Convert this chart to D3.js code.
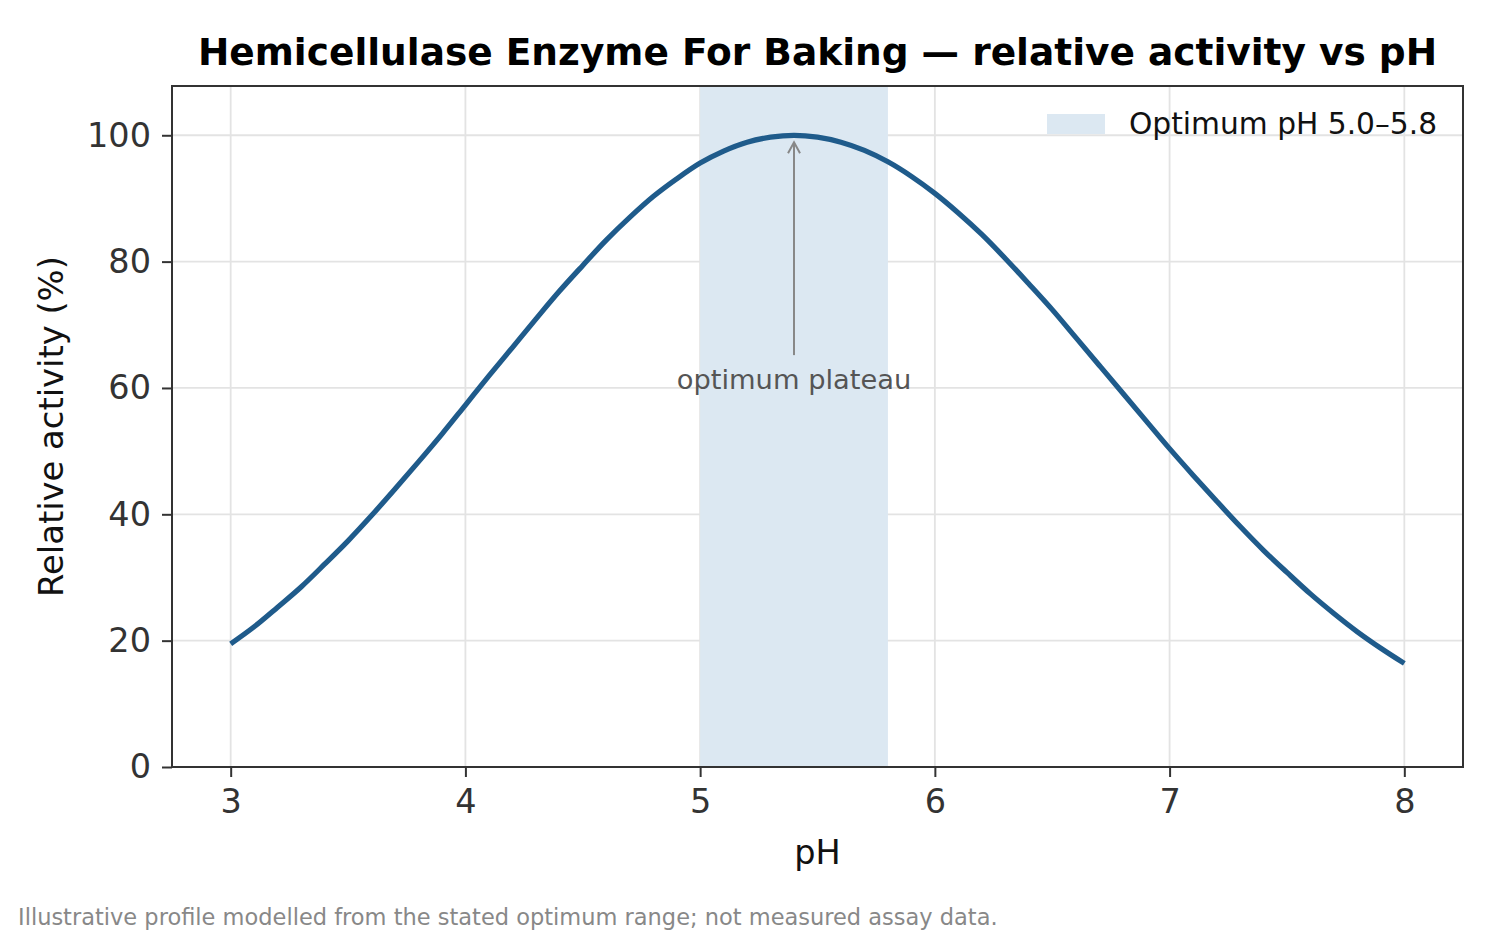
<!DOCTYPE html>
<html>
<head>
<meta charset="utf-8">
<script src="https://cdn.jsdelivr.net/npm/d3@7"></script>
<style>
  body { margin: 0; background: #fff; }
  svg text { font-family: "DejaVu Sans", sans-serif; }
</style>
</head>
<body>
<div id="chart"></div>
<script>
// pH values (x) and relative activity (%)
const phValues = [3.0, 3.1, 3.2, 3.3, 3.4, 3.5, 3.6, 3.7, 3.8, 3.9,
  4.0, 4.1, 4.2, 4.3, 4.4, 4.5, 4.6, 4.7, 4.8, 4.9,
  5.0, 5.1, 5.2, 5.3, 5.4, 5.5, 5.6, 5.7, 5.8, 5.9,
  6.0, 6.1, 6.2, 6.3, 6.4, 6.5, 6.6, 6.7, 6.8, 6.9,
  7.0, 7.1, 7.2, 7.3, 7.4, 7.5, 7.6, 7.7, 7.8, 7.9, 8.0];
const activity = [19.5, 22.2, 25.3, 28.5, 32.1, 35.8, 39.8, 44.0, 48.3, 52.7,
  57.3, 61.9, 66.4, 70.9, 75.3, 79.4, 83.4, 87.0, 90.3, 93.1,
  95.6, 97.5, 98.9, 99.7, 100.0, 99.7, 98.9, 97.6, 95.8, 93.5,
  90.8, 87.7, 84.3, 80.5, 76.5, 72.4, 68.0, 63.6, 59.2, 54.8,
  50.4, 46.2, 42.1, 38.1, 34.3, 30.8, 27.4, 24.3, 21.4, 18.8, 16.4];
const optimumBand = [5.0, 5.8];
const peak = { ph: 5.4, value: 100 };
const xTicks = [3, 4, 5, 6, 7, 8];
const yTicks = [0, 20, 40, 60, 80, 100];

const data = phValues.map((p, i) => ({ ph: p, value: activity[i] }));

const W = 1500, H = 937;
const margin = { top: 86, right: 37, bottom: 170, left: 172 };
const width = W - margin.left - margin.right,
  height = H - margin.top - margin.bottom;

const svg = d3.select("#chart").append("svg")
  .attr("width", W).attr("height", H);
const g = svg.append("g")
  .attr("transform", "translate(" + margin.left + "," + margin.top + ")");

const x = d3.scaleLinear().domain([2.75, 8.25]).range([0, width]);
const y = d3.scaleLinear().domain([0, 107.8]).range([height, 0]);

// grid
g.append("g").selectAll("line").data(xTicks).join("line")
  .attr("x1", d => x(d)).attr("x2", d => x(d))
  .attr("y1", 0).attr("y2", height)
  .attr("stroke", "#e3e3e3").attr("stroke-width", 1.8);
g.append("g").selectAll("line").data(yTicks).join("line")
  .attr("x1", 0).attr("x2", width)
  .attr("y1", d => y(d)).attr("y2", d => y(d))
  .attr("stroke", "#e3e3e3").attr("stroke-width", 1.8);

// optimum band
g.append("rect")
  .attr("x", x(optimumBand[0]))
  .attr("width", x(optimumBand[1]) - x(optimumBand[0]))
  .attr("y", 0).attr("height", height)
  .attr("fill", "#dce8f2");

// curve
const line = d3.line()
  .x(d => x(d.ph)).y(d => y(d.value))
  .curve(d3.curveCatmullRom);
g.append("path").datum(data)
  .attr("d", line)
  .attr("fill", "none")
  .attr("stroke", "#1f5b8b")
  .attr("stroke-width", 5.2);

// annotation arrow
const ax = x(peak.ph), tipY = y(peak.value) + 7;
g.append("line")
  .attr("x1", ax).attr("x2", ax)
  .attr("y1", y(65.2)).attr("y2", tipY)
  .attr("stroke", "#888").attr("stroke-width", 2);
g.append("path")
  .attr("d", "M" + (ax - 6) + "," + (tipY + 11) + " L" + ax + "," + tipY +
    " L" + (ax + 6) + "," + (tipY + 11))
  .attr("fill", "none").attr("stroke", "#888").attr("stroke-width", 2);
g.append("text")
  .attr("x", ax).attr("y", y(59.8))
  .attr("text-anchor", "middle")
  .attr("fill", "#555").attr("font-size", 27.3)
  .text("optimum plateau");

// axes
const xAxis = g.append("g")
  .attr("transform", "translate(0," + height + ")")
  .call(d3.axisBottom(x).tickValues(xTicks).tickFormat(d3.format("d"))
    .tickSize(10).tickPadding(12));
const yAxis = g.append("g")
  .call(d3.axisLeft(y).tickValues(yTicks).tickSize(10).tickPadding(11));
[xAxis, yAxis].forEach(a => {
  a.select(".domain").remove();
  a.selectAll(".tick line").attr("stroke", "#333").attr("stroke-width", 2);
  a.selectAll(".tick text").attr("fill", "#333").attr("font-size", 33.5)
    .attr("font-family", "DejaVu Sans");
});

// spines
g.append("rect")
  .attr("width", width).attr("height", height)
  .attr("fill", "none").attr("stroke", "#333").attr("stroke-width", 2);

// labels
svg.append("text")
  .attr("x", margin.left + width / 2).attr("y", 65)
  .attr("text-anchor", "middle")
  .attr("font-size", 37.5).attr("font-weight", "bold").attr("fill", "#000")
  .text("Hemicellulase Enzyme For Baking \u2014 relative activity vs pH");
svg.append("text")
  .attr("x", margin.left + width / 2).attr("y", 864)
  .attr("text-anchor", "middle")
  .attr("font-size", 33.5).attr("fill", "#111")
  .text("pH");
svg.append("text")
  .attr("transform", "translate(63," + (margin.top + height / 2) + ") rotate(-90)")
  .attr("text-anchor", "middle")
  .attr("font-size", 33.8).attr("fill", "#111")
  .text("Relative activity (%)");
svg.append("text")
  .attr("x", 18).attr("y", 925)
  .attr("font-size", 22.5).attr("fill", "#888")
  .text("Illustrative profile modelled from the stated optimum range; not measured assay data.");

// legend
const legend = svg.append("g");
legend.append("rect")
  .attr("x", 1047).attr("y", 114).attr("width", 58).attr("height", 20)
  .attr("fill", "#dce8f2");
legend.append("text")
  .attr("x", 1129).attr("y", 134)
  .attr("font-size", 29.7).attr("fill", "#111")
  .text("Optimum pH 5.0\u20135.8");
</script>
</body>
</html>
